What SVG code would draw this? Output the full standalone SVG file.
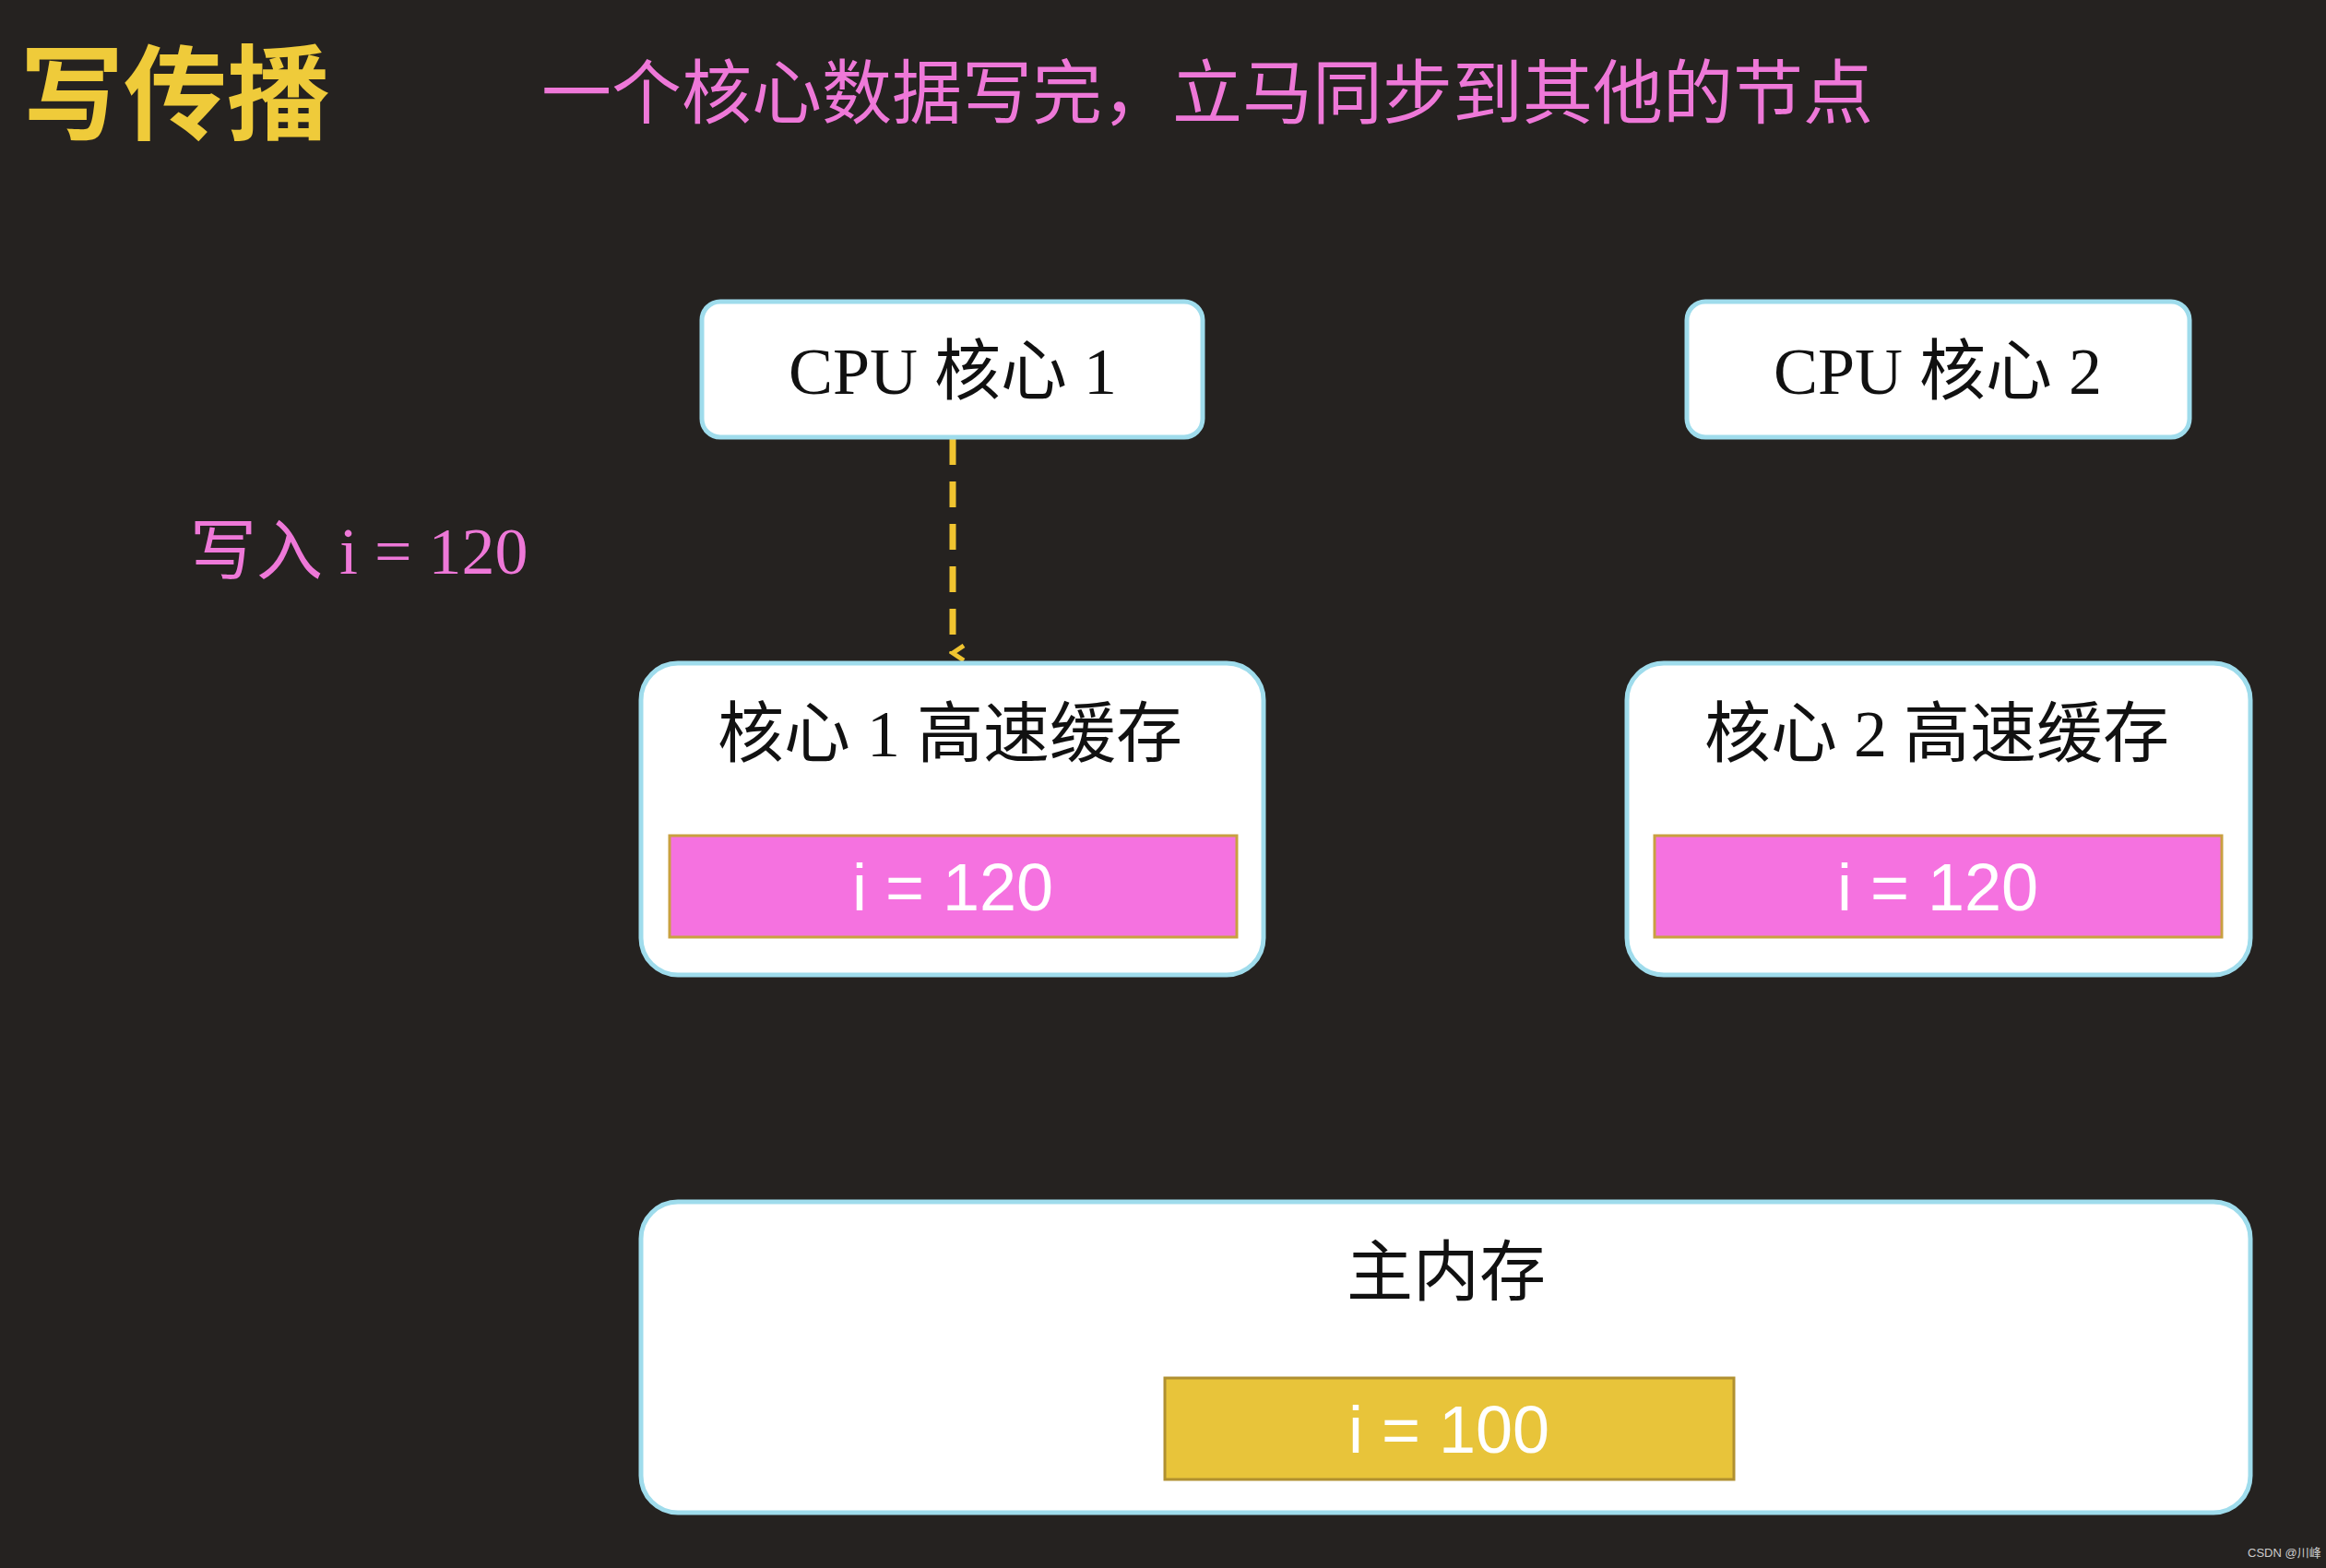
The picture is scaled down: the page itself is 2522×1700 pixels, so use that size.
<svg xmlns="http://www.w3.org/2000/svg" width="2522" height="1700" viewBox="0 0 2522 1700">
<style>
.box{fill:#fff;stroke:#9fdcec;stroke-width:5}
.serif{font-family:"Liberation Serif","Noto Sans CJK SC",serif;fill:#111;font-size:72px;text-anchor:middle}
.val{font-family:"Liberation Sans",sans-serif;fill:#fff;font-size:72px;text-anchor:middle}
</style>
<defs><marker id="ah" viewBox="0 0 20 20" refX="10" refY="16" markerWidth="20" markerHeight="20" markerUnits="userSpaceOnUse" orient="auto-start-reverse"><path d="M2,4 L10,16 L18,4" fill="none" stroke="#f0c430" stroke-width="5"/></marker></defs>
<rect width="2522" height="1700" fill="#252220"/>
<text x="22" y="143" font-family="Noto Sans CJK SC,sans-serif" font-weight="bold" font-size="112" fill="#efcb3a">写传播</text>
<text x="587" y="128" font-family="Noto Sans CJK SC,serif" font-size="76" fill="#ee78d8">一个核心数据写完，立马同步到其他的节点</text>
<text x="206" y="622" font-family="Liberation Serif,Noto Sans CJK SC,serif" font-size="72" fill="#ee78d8">写入 i = 120</text>
<g id="connectors"><line x1="1033" y1="476" x2="1033" y2="708" stroke="#f0c430" stroke-width="7" stroke-dasharray="28,18" marker-end="url(#ah)"/></g>
<g id="cpu1"><rect class="box" x="761" y="327" width="543" height="147" rx="20"/><text class="serif" x="1033" y="427">CPU 核心 1</text></g>
<g id="cpu2"><rect class="box" x="1829" y="327" width="545" height="147" rx="20"/><text class="serif" x="2101" y="427">CPU 核心 2</text></g>
<g id="cache1"><rect class="box" x="695" y="719" width="675" height="338" rx="40"/><text class="serif" x="1030" y="820">核心 1 高速缓存</text><rect x="726" y="906" width="615" height="110" fill="#f572e0" stroke="#c9a040" stroke-width="3"/><text class="val" x="1033" y="987">i = 120</text></g>
<g id="cache2"><rect class="box" x="1764" y="719" width="676" height="338" rx="40"/><text class="serif" x="2100" y="820">核心 2 高速缓存</text><rect x="1794" y="906" width="615" height="110" fill="#f572e0" stroke="#c9a040" stroke-width="3"/><text class="val" x="2101" y="987">i = 120</text></g>
<g id="mem"><rect class="box" x="695" y="1303" width="1745" height="337" rx="40"/><text class="serif" x="1568" y="1404">主内存</text><rect x="1263" y="1494" width="617" height="110" fill="#e8c43a" stroke="#b09030" stroke-width="3"/><text class="val" x="1571" y="1575">i = 100</text></g>
<text x="2437" y="1688" font-family="Liberation Sans,Noto Sans CJK SC,sans-serif" font-size="13" fill="#ccc">CSDN @川峰</text>
</svg>
